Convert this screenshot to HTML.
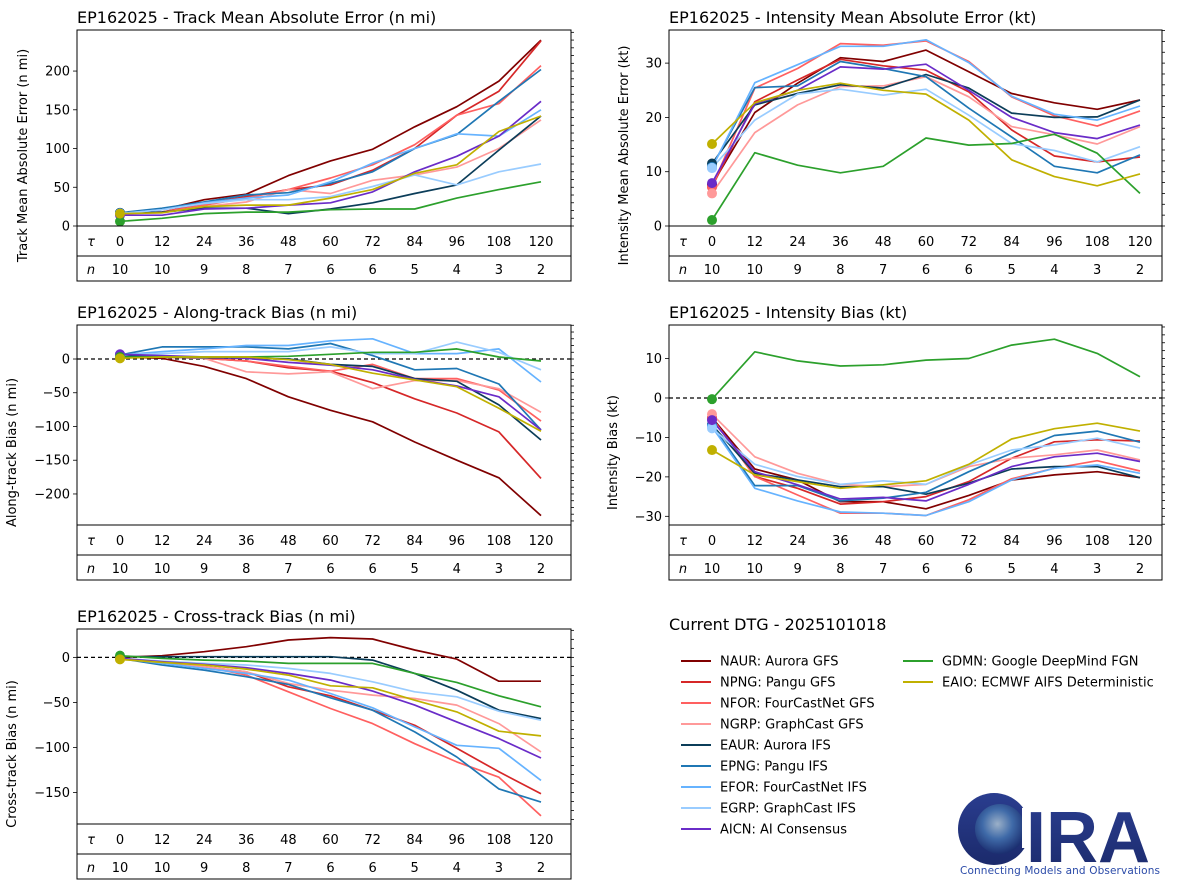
<!DOCTYPE html>
<html><head><meta charset="utf-8"><style>
body{margin:0;background:#fff}
svg{display:block;font-family:"DejaVu Sans","Liberation Sans",sans-serif}
</style></head><body>
<svg id="fig" width="1183" height="894" viewBox="0 0 1183 894">
<g>
  <defs>
    <linearGradient id="lg" x1="0" y1="0" x2="0" y2="1"><stop offset="0" stop-color="#2a3d8f"/><stop offset="1" stop-color="#1b2a6b"/></linearGradient>
    <radialGradient id="earth" cx="0.45" cy="0.4" r="0.6"><stop offset="0" stop-color="#9bb0c8"/><stop offset="0.5" stop-color="#3f6aa8"/><stop offset="1" stop-color="#1b2f70"/></radialGradient>
  </defs>
  <circle cx="994" cy="829" r="36" fill="url(#lg)"/>
  <circle cx="1000" cy="829" r="25" fill="url(#earth)"/>
  <rect x="1022" y="808" width="20" height="40" fill="#fff"/>
  <text x="1026" y="862" font-size="72" font-weight="bold" fill="url(#lg)" font-family="Liberation Sans, sans-serif">IRA</text>
  <text x="960" y="874" font-size="10.5" fill="#2a4aa8" textLength="200">Connecting Models and Observations</text>
</g>
</svg>
<script>
const taus=[0,12,24,36,48,60,72,84,96,108,120];
const counts=[10,10,9,8,7,6,6,5,4,3,2];
const models=["NAUR","NPNG","NFOR","NGRP","EAUR","EPNG","EFOR","EGRP","AICN","GDMN","EAIO"];
const modelLabels=["NAUR: Aurora GFS","NPNG: Pangu GFS","NFOR: FourCastNet GFS","NGRP: GraphCast GFS","EAUR: Aurora IFS","EPNG: Pangu IFS","EFOR: FourCastNet IFS","EGRP: GraphCast IFS","AICN: AI Consensus","GDMN: Google DeepMind FGN","EAIO: ECMWF AIFS Deterministic"];
const colors=["#800000","#d62728","#ff6060","#ff9999","#0b3d59","#1f77b4","#66b3ff","#99ccff","#6a2cc8","#2ca02c","#c0b000"];
const trackMAE=[
[17,21,34,41,65,84,99,128,154,187,240],
[16,18,29,38,47,53,72,100,143,174,239],
[16,18,27,36,47,62,79,105,143,158,207],
[16,17,25,31,47,42,59,66,76,100,137],
[17,18,23,23,16,22,30,42,53,98,142],
[17,23,31,40,43,55,70,100,118,161,202],
[16,21,30,36,40,57,81,100,119,116,150],
[16,21,29,34,34,38,51,66,53,70,80],
[14,14,22,23,27,30,44,70,90,116,161],
[6,10,16,18,18,21,22,22,36,47,57],
[16,17,25,27,27,36,47,68,79,122,142]];
const intMAE=[
[7.6,20.9,26.3,31,30.3,32.4,28.4,24.4,22.7,21.5,23.2],
[7.2,22.9,26.9,30.7,29.5,28.7,24.7,17.7,12.9,11.8,12.7],
[7.2,25.4,29,33.6,33.3,34.1,30.3,23.8,20.3,18.4,21.2],
[6,17.2,22.3,25.7,25.8,27.5,23.8,18.3,16.8,15.1,18.3],
[11.5,22.3,24.4,26,25.4,27.9,25.4,20.8,20,20.1,23.2],
[10.9,25.5,25.8,30.3,29,27.5,21.7,16.4,11,9.8,13.1],
[10.7,26.4,29.7,33.1,33.1,34.3,30.1,23.9,20.6,19.5,22.1],
[10.7,19.5,24.3,25.2,24.1,25.2,20.4,15.2,13.9,11.8,14.6],
[7.9,22.5,25,29.3,28.9,29.8,25,20,17.2,16.1,18.6],
[1.1,13.5,11.2,9.8,11,16.2,14.9,15.2,16.9,13.4,6.0],
[15.1,22.7,25,26.3,25,24.3,19.5,12.2,9.1,7.4,9.6]];
const alongBias=[
[3,1,-11,-29,-56,-76,-93,-123,-150,-176,-232],
[5,3,1,-3,-13,-18,-35,-59,-80,-108,-177],
[5,3,1,-3,-11,-18,-8,-29,-29,-46,-92],
[5,3,1,-19,-22,-19,-44,-32,-32,-44,-79],
[5,3,2,1,0,-8,-11,-29,-33,-68,-120],
[6,18,18,18,15,23,5,-16,-14,-37,-105],
[6,11,15,20,20,27,30,8,8,15,-34],
[6,8,11,11,11,18,8,8,25,10,-16],
[7,5,3,1,-5,-9,-16,-30,-40,-56,-105],
[3,3,3,3,4,7,10,10,15,3,-3],
[1,3,3,3,-1,-8,-21,-31,-41,-73,-107]];
const intBias=[
[-5,-18,-20.8,-26.3,-26.3,-28.1,-24.7,-20.8,-19.5,-18.7,-20.2],
[-5.1,-19.9,-22.9,-26.9,-26.3,-25,-21.2,-15.3,-11.1,-10.6,-10.9],
[-5.1,-19.9,-24.6,-29.2,-29.2,-29.8,-25.8,-20.5,-17.8,-15.9,-18.5],
[-4.1,-14.9,-19.1,-21.9,-22.5,-21.9,-17.4,-15.3,-14.4,-13.2,-15.7],
[-6.8,-19.1,-20.8,-22.5,-22.5,-24.4,-21.6,-18,-17.4,-17.4,-20.2],
[-6.8,-22.2,-22.2,-26.1,-25.4,-23.9,-18.7,-14,-9.5,-8.4,-11.2],
[-7.3,-22.9,-26.1,-28.9,-29.2,-29.8,-26.3,-20.8,-17.8,-17,-19.1],
[-7.7,-16.8,-19.9,-21.9,-21,-21.9,-17,-13.2,-11.9,-10.2,-12.7],
[-5.6,-18.7,-22,-25.6,-25.2,-26.1,-21.9,-17.4,-14.9,-14,-16.1],
[-0.3,11.7,9.4,8.1,8.4,9.6,10,13.4,14.9,11.3,5.4],
[-13.2,-19.5,-21.2,-22.9,-22,-21,-16.8,-10.4,-7.8,-6.4,-8.4]];
const crossBias=[
[0,1.9,6.3,11.9,19.3,21.9,20.4,8.2,-1.9,-26.4,-26.4],
[-1.1,-4.8,-10.4,-16,-32.7,-42.7,-58.6,-75.4,-101,-127,-151.4],
[-1.1,-5.6,-10.4,-19.7,-38.2,-56.8,-73.5,-95.8,-116,-133,-176],
[-1.1,-4.8,-10.4,-16,-29,-36.4,-41.9,-45.7,-53,-73.5,-105],
[0.7,0.7,0.7,0.7,0.7,0.7,-3,-17.8,-36.4,-58.6,-68],
[-1.1,-8.5,-14.1,-21.5,-30,-44.9,-58.6,-82.8,-110.6,-146,-160.7],
[-1.1,-6.7,-12.2,-17.8,-25.2,-40.1,-56,-77.2,-97.6,-101,-136.6],
[-1.1,-4.1,-6.7,-8.5,-12.2,-17.8,-27.1,-38.2,-43.8,-59.8,-69.8],
[-1.1,-4.8,-7.8,-11.5,-17.8,-25.2,-37.5,-53,-71.6,-90.2,-111.7],
[1.9,-1.1,-3,-4.1,-6.7,-6.7,-6.7,-17.8,-27.8,-42.7,-54.9],
[-2.2,-5.6,-8.5,-13,-19.7,-31.6,-33.8,-47.5,-60.5,-82,-87.2]];
const trackTicks=[0,50,100,150,200];
const intMAETicks=[0,10,20,30];
const alongTicks=[0,-50,-100,-150,-200];
const intBiasTicks=[10,0,-10,-20,-30];
const crossTicks=[0,-50,-100,-150];

const NS="http://www.w3.org/2000/svg";
const svg=document.getElementById('fig');
function mk(tag,attrs,parent){const e=document.createElementNS(NS,tag);for(const k in attrs)e.setAttribute(k,attrs[k]);(parent||svg).appendChild(e);return e;}

const panels=[
 {key:"track",title:"EP162025 - Track Mean Absolute Error (n mi)",ylab:"Track Mean Absolute Error (n mi)",x0:77,x1:571,y0:30,y1:226,vmin:0,vmax:253,data:trackMAE,ticks:trackTicks,minor:10,zero:false,labX:27},
 {key:"intensity-mae",title:"EP162025 - Intensity Mean Absolute Error (kt)",ylab:"Intensity Mean Absolute Error (kt)",x0:669,x1:1162,y0:30,y1:226,vmin:0,vmax:36.1,data:intMAE,ticks:intMAETicks,minor:2,zero:false,labX:628},
 {key:"along-track",title:"EP162025 - Along-track Bias (n mi)",ylab:"Along-track Bias (n mi)",x0:77,x1:571,y0:325,y1:525,vmin:-246,vmax:50.4,data:alongBias,ticks:alongTicks,minor:10,zero:true,labX:16},
 {key:"intensity-bias",title:"EP162025 - Intensity Bias (kt)",ylab:"Intensity Bias (kt)",x0:669,x1:1162,y0:325,y1:525,vmin:-32.2,vmax:18.5,data:intBias,ticks:intBiasTicks,minor:2,zero:true,labX:617},
 {key:"cross-track",title:"EP162025 - Cross-track Bias (n mi)",ylab:"Cross-track Bias (n mi)",x0:77,x1:571,y0:629,y1:824,vmin:-185,vmax:31.5,data:crossBias,ticks:crossTicks,minor:10,zero:true,labX:16}
];

panels.forEach(p=>{
  const g=mk('g',{});
  
  
  const xs=(p.x0===77)?[120,541]:[712,1140];
  const X=t=>xs[0]+(t-taus[0])/(taus[taus.length-1]-taus[0])*(xs[1]-xs[0]);
  const Y=v=>p.y1-(v-p.vmin)/(p.vmax-p.vmin)*(p.y1-p.y0);
  const tt=mk('text',{x:p.x0,y:p.y0-7,'font-size':16,fill:'#000'},g);
  tt.textContent=p.title;
  
  
  const cy=(p.y0+p.y1+55)/2;
  const yl=mk('text',{x:p.labX,y:cy,'font-size':13,'text-anchor':'middle',transform:`rotate(-90 ${p.labX} ${cy})`},g);
  yl.textContent=p.ylab;
  
  
  const cid='clip-'+p.key;
  const cp=mk('clipPath',{id:cid},g);
  mk('rect',{x:p.x0,y:p.y0,width:p.x1-p.x0,height:p.y1-p.y0},cp);
  for(let v=Math.ceil(p.vmin/p.minor)*p.minor;v<=p.vmax;v+=p.minor){
    mk('line',{x1:p.x1,x2:p.x1+3,y1:Y(v),y2:Y(v),stroke:'#000','stroke-width':0.8},g);
  }
  p.ticks.forEach(v=>{
    mk('line',{x1:p.x0-4,x2:p.x0,y1:Y(v),y2:Y(v),stroke:'#000','stroke-width':0.8},g);
    const t=mk('text',{x:p.x0-7,y:Y(v)+4.5,'font-size':13,'text-anchor':'end'},g);
    t.textContent=String(v).replace('-','\u2212');
    
    
  });
  if(p.zero){
    mk('line',{x1:p.x0,x2:p.x1,y1:Y(0),y2:Y(0),stroke:'#000','stroke-width':1.2,'stroke-dasharray':'4,3'},g);
  }
  const lg=mk('g',{'clip-path':`url(#${cid})`},g);
  p.data.forEach((s,i)=>{
    const pts=s.map((v,j)=>X(taus[j]).toFixed(1)+','+Y(v).toFixed(1)).join(' ');
    const pl=mk('polyline',{points:pts,fill:'none',stroke:colors[i],'stroke-width':1.7,'stroke-linejoin':'round'},lg);
    
    
  });
  p.data.forEach((s,i)=>{
    const c=mk('circle',{cx:X(taus[0]),cy:Y(s[0]),r:5,fill:colors[i]},lg);
    
    
  });
  mk('rect',{x:p.x0,y:p.y0,width:p.x1-p.x0,height:p.y1-p.y0,fill:'none',stroke:'#000','stroke-width':1},g);
  const tb=mk('g',{},g);
  
  
  const r1=p.y1+30, r2=p.y1+55;
  mk('rect',{x:p.x0,y:p.y1,width:p.x1-p.x0,height:r2-p.y1,fill:'none',stroke:'#000','stroke-width':1},tb);
  mk('line',{x1:p.x0,x2:p.x1,y1:r1,y2:r1,stroke:'#000','stroke-width':1},tb);
  const tl=mk('text',{x:p.x0+14,y:p.y1+20,'font-size':13,'font-style':'italic','text-anchor':'middle'},tb);
  tl.textContent='\u03c4';
  const nl=mk('text',{x:p.x0+14,y:r1+18,'font-size':13,'font-style':'italic','text-anchor':'middle'},tb);
  nl.textContent='n';
  taus.forEach((t,j)=>{
    const a=mk('text',{x:X(t),y:p.y1+20,'font-size':13,'text-anchor':'middle'},tb);
    a.textContent=t;
    
    
    const b=mk('text',{x:X(t),y:r1+18,'font-size':13,'text-anchor':'middle'},tb);
    b.textContent=counts[j];
    
    
  });
});

const lgd=mk('g',{});


const dt=mk('text',{x:669,y:630,'font-size':16},lgd);
dt.textContent='Current DTG - 2025101018';


models.forEach((m,i)=>{
  const col=i<9?0:1, row=i<9?i:i-9;
  const lx=col?903:681, ly=661+row*21;
  const e=mk('g',{},lgd);
  
  
  mk('line',{x1:lx,x2:lx+30,y1:ly,y2:ly,stroke:colors[i],'stroke-width':2},e);
  const t=mk('text',{x:lx+39,y:ly+4.5,'font-size':13},e);
  t.textContent=modelLabels[i];
});
</script>
</body></html>
